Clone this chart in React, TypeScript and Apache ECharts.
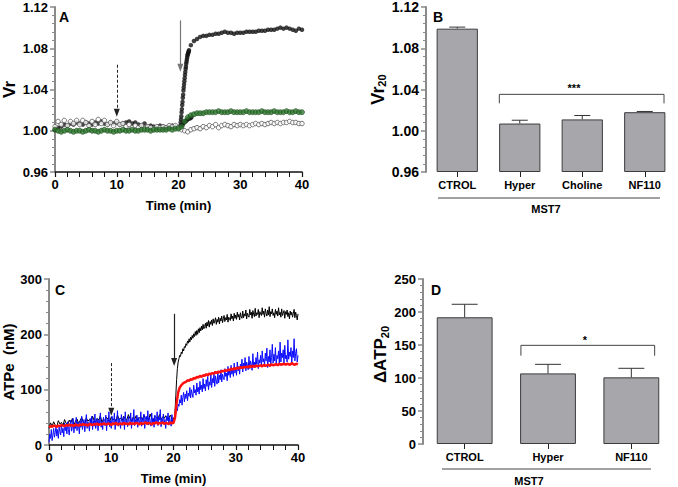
import React, { useEffect, useRef } from 'react';
import * as echarts from 'echarts';

const FONT = '"Liberation Sans", Arial, Helvetica, sans-serif';

// ---------- Panel A : Vr vs time ----------
const stepA = 0.5;
// CTROL (black filled) before stimulus, t = 0..20
const ctrolPreA = [
  1.001, 1.003, 1.004, 1.006, 1.005, 1.007, 1.006, 1.008, 1.007, 1.006,
  1.008, 1.007, 1.006, 1.008, 1.007, 1.009, 1.007, 1.006, 1.008, 1.007,
  1.008, 1.006, 1.007, 1.008, 1.009, 1.007, 1.008, 1.006, 1.005, 1.007,
  1.004, 1.005, 1.004, 1.003, 1.005, 1.004, 1.003, 1.004, 1.005, 1.004,
  1.003,
];
// CTROL rise after hypotonic shock
const ctrolRiseT = [20.3, 20.35, 20.4, 20.45, 20.5, 20.55, 20.6, 20.65, 20.7, 20.75, 20.8, 20.85, 20.9, 20.95, 21.0, 21.05, 21.1, 21.15, 21.2, 21.25, 21.3, 21.35, 21.4, 21.45, 21.5, 21.55, 21.6, 21.65, 21.7];
const ctrolRiseV = [1.005, 1.008, 1.011, 1.014, 1.018, 1.021, 1.025, 1.028, 1.032, 1.035, 1.039, 1.042, 1.045, 1.048, 1.051, 1.054, 1.057, 1.06, 1.062, 1.065, 1.067, 1.069, 1.071, 1.073, 1.074, 1.075, 1.076, 1.077, 1.078];
// CTROL plateau, t = 22..40
const ctrolPlatStart = 22;
const ctrolPlatA = [
  1.083, 1.087, 1.089, 1.091, 1.092, 1.092, 1.093, 1.093, 1.094, 1.094,
  1.095, 1.096, 1.095, 1.095, 1.094, 1.095, 1.095, 1.095, 1.096, 1.096,
  1.096, 1.096, 1.097, 1.097, 1.097, 1.098, 1.098, 1.098, 1.099, 1.1,
  1.099, 1.1, 1.099, 1.098, 1.097, 1.099, 1.098,
];
// dark branch near baseline just after stimulus
const branchT = [20.3, 20.5, 20.7, 20.9, 21.1, 21.3, 21.5, 21.7, 21.9, 22.1];
const branchV = [1.003, 1.005, 1.006, 1.008, 1.009, 1.01, 1.011, 1.012, 1.012, 1.013];
// Hyper (open circles), t = 0..40
const hyperA = [
  1.004, 1.009, 1.006, 1.01, 1.005, 1.009, 1.007, 1.01, 1.006, 1.01,
  1.008, 1.005, 1.009, 1.006, 1.011, 1.007, 1.01, 1.006, 1.008, 1.005,
  1.009, 1.006, 1.007, 1.004, 1.006, 1.003, 1.005, 1.003, 1.005, 1.002,
  1.004, 1.003, 1.002, 1.004, 1.003, 1.004, 1.003, 1.005, 1.004, 1.005,
  1.003, 1.001, 1.0, 0.999, 1.001, 1.002, 1.003, 1.002, 1.004, 1.003,
  1.005, 1.004, 1.006, 1.003, 1.005, 1.006, 1.005, 1.004, 1.006, 1.005,
  1.006, 1.005, 1.006, 1.005, 1.006, 1.007, 1.006, 1.007, 1.006, 1.007,
  1.008, 1.007, 1.008, 1.007, 1.008, 1.008, 1.009, 1.008, 1.008, 1.007,
  1.007,
];
// NF110 (green), t = 0..40
const nf110A = [
  1.001, 1.0, 0.999, 1.0, 1.001, 1.0, 0.999, 1.0, 1.0, 0.999,
  1.0, 1.001, 1.0, 1.0, 0.999, 1.0, 1.001, 1.0, 1.0, 0.999,
  1.0, 1.0, 1.001, 1.0, 1.0, 1.001, 1.0, 1.0, 1.001, 1.001,
  1.001, 1.0, 1.001, 1.001, 1.001, 1.001, 1.001, 1.002, 1.001, 1.002,
  1.002, 1.004, 1.009, 1.013, 1.015, 1.016, 1.017, 1.017, 1.017, 1.018,
  1.018, 1.018, 1.018, 1.019, 1.018, 1.018, 1.018, 1.019, 1.018, 1.018,
  1.018, 1.018, 1.019, 1.018, 1.018, 1.018, 1.018, 1.019, 1.018, 1.018,
  1.018, 1.019, 1.018, 1.018, 1.018, 1.019, 1.018, 1.018, 1.019, 1.018,
  1.018,
];
// stimulus arrows (time, start value, tip value)
const arrowsA = { dashed: [10, 1.064, 1.0175], solid: [20.3, 1.107, 1.061] };

// ---------- Panel B : Vr20 bars ----------
const catsB = ['CTROL', 'Hyper', 'Choline', 'NF110'];
const meanB = [1.099, 1.007, 1.011, 1.018];
const errTopB = [1.1005, 1.0102, 1.0148, 1.0187];
const bracketB = [[0.673, 1.0266], [0.673, 1.0353], [3.308, 1.0353], [3.308, 1.0266]];

// ---------- Panel C : ATPe vs time ----------
const stepC = 0.25;
const stepFineC = 0.125;
const postStartC = 20.25;
const postStartFineC = 20.125;
const ctrolPreC = [
  30, 40, 34, 42, 36, 33, 44, 38, 41, 35,
  46, 39, 37, 45, 40, 48, 36, 43, 47, 39,
  44, 50, 41, 38, 49, 43, 46, 40, 52, 44,
  42, 48, 45, 53, 41, 47, 44, 50, 46, 42,
  51, 45, 48, 43, 54, 46, 49, 44, 52, 47,
  45, 55, 48, 43, 50, 46, 53, 44, 49, 51,
  46, 54, 47, 50, 45, 56, 48, 44, 52, 49,
  47, 55, 46, 51, 48, 53, 45, 50, 54, 47,
  49,
];
const ctrolPostC = [
  45, 62, 90, 118, 138, 150, 156, 162,
  160, 168, 165, 174, 170, 178, 176, 183,
  180, 188, 184, 192, 186, 195, 190, 198,
  193, 201, 196, 205, 198, 207, 200, 210,
  203, 212, 206, 215, 208, 218, 210, 214,
  220, 211, 222, 215, 225, 213, 223, 218,
  226, 216, 228, 220, 224, 230, 218, 227,
  222, 231, 219, 229, 224, 233, 221, 228,
  234, 223, 230, 226, 236, 222, 231, 228,
  225, 237, 228, 233, 224, 238, 229, 235,
  227, 240, 231, 236, 226, 239, 232, 229,
  242, 230, 237, 233, 244, 228, 238, 234,
  231, 245, 235, 240, 229, 243, 236, 232,
  247, 233, 239, 236, 245, 230, 241, 237,
  234, 248, 236, 242, 231, 246, 238, 233,
  244, 235, 250, 232, 241, 237, 246, 234,
  239, 230, 245, 236, 242, 233, 248, 235,
  240, 231, 246, 234, 238, 243, 229, 241,
  236, 244, 232, 239, 228, 242, 235, 240,
  231, 238, 245, 230, 240, 234, 226, 237,
];
const hyperPreC = [
  5, 20, 12, 28, 8, 18, 30, 14,
  22, 35, 16, 28, 12, 33, 24, 18,
  38, 22, 30, 15, 40, 26, 34, 20,
  42, 28, 18, 36, 45, 25, 32, 48,
  22, 38, 30, 50, 26, 42, 35, 20,
  44, 32, 52, 28, 38, 46, 24, 40,
  55, 30, 42, 36, 25, 48, 38, 52,
  28, 44, 34, 56, 30, 40, 48, 26,
  45, 38, 58, 32, 42, 28, 50, 40,
  35, 54, 26, 46, 40, 60, 33, 44,
  30, 52, 42, 36, 58, 28, 46, 38,
  62, 34, 48, 40, 30, 55, 44, 36,
  50, 28, 60, 38, 45, 33, 52, 42,
  36, 58, 30, 48, 42, 64, 35, 46,
  40, 54, 32, 50, 44, 38, 60, 34,
  48, 42, 56, 30, 46, 52, 38, 62,
  36, 50, 44, 34, 58, 40, 48, 32,
  54, 42, 38, 60, 35, 50, 45, 64,
  33, 48, 40, 56, 38, 46, 30, 52,
  44, 58, 36, 50, 42, 34, 55, 40,
  46,
];
const hyperPostC = [
  44, 50, 58, 66, 62, 74, 70, 82,
  76, 90, 72, 86, 95, 78, 92, 84,
  98, 80, 94, 88, 104, 85, 100, 92,
  86, 108, 94, 100, 90, 112, 96, 104,
  92, 115, 100, 108, 96, 120, 102, 110,
  98, 118, 106, 124, 100, 114, 108, 128,
  104, 120, 112, 130, 106, 125, 116, 110,
  132, 112, 126, 118, 136, 114, 128, 122,
  118, 138, 124, 130, 116, 142, 126, 134,
  122, 144, 128, 136, 124, 148, 130, 140,
  126, 150, 134, 142, 128, 146, 138, 155,
  132, 148, 140, 158, 134, 150, 144, 136,
  160, 138, 152, 146, 135, 165, 142, 150,
  140, 158, 146, 168, 138, 154, 148, 162,
  142, 170, 150, 156, 144, 166, 152, 175,
  140, 160, 150, 172, 146, 158, 182, 148,
  164, 152, 176, 144, 162, 156, 170, 148,
  186, 150, 166, 158, 172, 146, 180, 156,
  162, 150, 190, 155, 168, 160, 176, 148,
  170, 158, 192, 152, 166, 174, 150, 162,
];
const nf110PreC = [
  32, 34, 33, 35, 34, 33, 35, 34, 36, 35,
  34, 36, 35, 37, 35, 36, 34, 37, 36, 35,
  37, 36, 38, 36, 37, 35, 38, 37, 36, 38,
  37, 39, 36, 38, 37, 39, 38, 37, 39, 38,
  36, 39, 38, 40, 37, 38, 39, 37, 40, 38,
  39, 37, 40, 38, 39, 38, 40, 39, 37, 40,
  38, 39, 41, 38, 40, 39, 37, 40, 39, 41,
  38, 40, 39, 41, 38, 40, 39, 38, 41, 39,
  40,
];
const nf110PostC = [
  50, 76, 95, 104, 108, 111, 113, 114, 117, 116,
  119, 118, 121, 120, 123, 122, 125, 123, 126, 125,
  128, 126, 129, 128, 130, 129, 132, 130, 133, 131,
  134, 133, 135, 134, 136, 135, 138, 136, 139, 137,
  140, 138, 141, 139, 141, 140, 142, 140, 143, 141,
  143, 141, 144, 142, 143, 144, 142, 145, 143, 144,
  145, 143, 146, 144, 145, 146, 144, 147, 145, 146,
  147, 145, 147, 146, 145, 148, 146, 145, 147, 146,
];
const arrowsC = { dashed: [10, 148, 60], solid: [20.1, 237, 150] };

// ---------- Panel D : ΔATP20 bars ----------
const catsD = ['CTROL', 'Hyper', 'NF110'];
const meanD = [192, 107, 101];
const errTopD = [211.7, 120.7, 114.7];
const bracketD = [[0.675, 133.8], [0.675, 149.5], [2.28, 149.5], [2.28, 133.8]];

const series = (start: number, step: number, vals: number[]) =>
  vals.map((v, i) => [+(start + i * step).toFixed(3), v]);
const pairs = (ts: number[], vs: number[]) => ts.map((t, i) => [t, vs[i]]);

const AX_GRAY = '#8a8a8a';

const yBase = (extra: any) => ({
  type: 'value',
  splitLine: { show: false },
  axisLine: { show: true, onZero: false, lineStyle: { color: AX_GRAY, width: 2 } },
  axisTick: { show: true, length: 5, lineStyle: { color: AX_GRAY, width: 1.5 } },
  minorTick: { show: true, splitNumber: 5, length: 3, lineStyle: { color: AX_GRAY, width: 1 } },
  axisLabel: { color: '#000', fontWeight: 'bold', fontSize: 13, fontFamily: FONT, margin: 7 },
  nameLocation: 'middle',
  nameRotate: 90,
  nameTextStyle: { color: '#000', fontWeight: 'bold', fontSize: 15, fontFamily: FONT },
  ...extra,
});

const xTime = (gridIndex: number) => ({
  type: 'value',
  gridIndex,
  min: 0,
  max: 40,
  interval: 10,
  splitLine: { show: false },
  axisLine: { show: true, onZero: false, lineStyle: { color: '#111', width: 1.5 } },
  axisTick: { show: true, length: 5, lineStyle: { color: '#111', width: 1.2 } },
  minorTick: { show: true, splitNumber: 5, length: 5, lineStyle: { color: '#111', width: 1 } },
  axisLabel: { color: '#000', fontWeight: 'bold', fontSize: 13, fontFamily: FONT, margin: 6 },
  name: 'Time (min)',
  nameLocation: 'middle',
  nameGap: 27,
  nameTextStyle: { color: '#000', fontWeight: 'bold', fontSize: 13, fontFamily: FONT },
});

const xCat = (gridIndex: number, data: string[]) => ({
  type: 'category',
  gridIndex,
  data,
  axisLine: { show: false, onZero: false },
  axisTick: { show: true, alignWithLabel: true, length: 5, lineStyle: { color: '#222', width: 1 } },
  axisLabel: { color: '#000', fontWeight: 'bold', fontSize: 11, fontFamily: FONT, margin: 7 },
  splitLine: { show: false },
});

const xOverlay = (gridIndex: number, n: number) => ({
  type: 'value',
  gridIndex,
  min: -0.5,
  max: n - 0.5,
  show: false,
  axisLine: { show: false, onZero: false },
  splitLine: { show: false },
});

const errRender = (means: number[], tops: number[], capW: number) => (params: any, api: any) => {
  const i = params.dataIndex;
  const base = api.coord([i, means[i]]);
  const top = api.coord([i, tops[i]]);
  const st = { stroke: '#333', lineWidth: 1 };
  return {
    type: 'group',
    children: [
      { type: 'line', shape: { x1: base[0], y1: base[1], x2: top[0], y2: top[1] }, style: st },
      { type: 'line', shape: { x1: top[0] - capW / 2, y1: top[1], x2: top[0] + capW / 2, y2: top[1] }, style: st },
    ],
  };
};

const arrowLine = (dashed: number[], solid: number[], solidColor: string) => ({
  silent: true,
  symbol: ['none', 'triangle'],
  symbolSize: [6, 8],
  label: { show: false },
  emphasis: { disabled: true },
  animation: false,
  data: [
    [{ coord: [dashed[0], dashed[1]], lineStyle: { type: [3, 2], color: '#222', width: 1 } }, { coord: [dashed[0], dashed[2]] }],
    [{ coord: [solid[0], solid[1]], lineStyle: { type: 'solid', color: solidColor, width: 1.2 } }, { coord: [solid[0], solid[2]] }],
  ],
});

const barStyle = { color: '#a6a6ab', borderColor: '#3c3c3c', borderWidth: 1 };

const txt = (text: string, x: number, y: number, size: number, align = 'left') => ({
  type: 'text', x, y,
  style: { text, align, verticalAlign: 'middle', fontSize: size, fontWeight: 'bold', fontFamily: FONT, fill: '#000' },
});

export default function App() {
  const ref = useRef<HTMLDivElement>(null);
  useEffect(() => {
    if (!ref.current) return;
    const chart = echarts.init(ref.current, undefined, { renderer: 'svg' });
    const option: any = {
      animation: false,
      backgroundColor: '#fff',
      grid: [
        { left: 53, top: 7, width: 249, height: 165 },
        { left: 426, top: 7, width: 250, height: 165 },
        { left: 49, top: 279, width: 249, height: 166 },
        { left: 423, top: 279, width: 250, height: 165 },
      ],
      xAxis: [
        xTime(0),
        xCat(1, catsB),
        xOverlay(1, catsB.length),
        xTime(2),
        xCat(3, catsD),
        xOverlay(3, catsD.length),
      ],
      yAxis: [
        yBase({ gridIndex: 0, min: 0.96, max: 1.12, interval: 0.04, name: 'Vr', nameGap: 37,
          nameTextStyle: { color: '#000', fontWeight: 'bold', fontSize: 17, fontFamily: FONT },
          axisLabel: { color: '#000', fontWeight: 'bold', fontSize: 13, fontFamily: FONT, margin: 7, formatter: (v: number) => v.toFixed(2) } }),
        yBase({ gridIndex: 1, min: 0.96, max: 1.12, interval: 0.04, startValue: 0.96,
          name: '{v|Vr}{s|20}', nameGap: 36,
          nameTextStyle: { color: '#000', fontFamily: FONT, rich: {
            v: { fontSize: 18, fontWeight: 'bold', fontFamily: FONT, color: '#000' },
            s: { fontSize: 11, fontWeight: 'bold', fontFamily: FONT, color: '#000', padding: [9, 0, 0, 0] },
          } },
          axisLabel: { color: '#000', fontWeight: 'bold', fontSize: 14, fontFamily: FONT, margin: 7, formatter: (v: number) => v.toFixed(2) } }),
        yBase({ gridIndex: 2, min: 0, max: 300, interval: 100, name: 'ATPe  (nM)', nameGap: 32 }),
        yBase({ gridIndex: 3, min: 0, max: 250, interval: 50,
          name: '{v|\u0394ATP}{s|20}', nameGap: 33,
          nameTextStyle: { color: '#000', fontFamily: FONT, padding: [0, 0, 0, 14], rich: {
            v: { fontSize: 17, fontWeight: 'bold', fontFamily: FONT, color: '#000' },
            s: { fontSize: 11, fontWeight: 'bold', fontFamily: FONT, color: '#000', padding: [9, 0, 0, 0] },
          } } }),
      ],
      series: [
        // ---- A ----
        {
          name: 'CTROL', type: 'scatter', xAxisIndex: 0, yAxisIndex: 0, symbolSize: 4.5,
          itemStyle: { color: '#111' },
          data: [
            ...series(0, stepA, ctrolPreA),
            ...pairs(ctrolRiseT, ctrolRiseV),
            ...series(ctrolPlatStart, stepA, ctrolPlatA),
            ...pairs(branchT, branchV),
          ],
          markLine: arrowLine(arrowsA.dashed, arrowsA.solid, '#777'),
        },
        {
          name: 'Hyper', type: 'scatter', xAxisIndex: 0, yAxisIndex: 0, symbolSize: 4.5,
          itemStyle: { color: '#fff', borderColor: '#555', borderWidth: 1 },
          data: series(0, stepA, hyperA),
        },
        {
          name: 'NF110', type: 'scatter', xAxisIndex: 0, yAxisIndex: 0, symbolSize: 5,
          itemStyle: { color: '#2f7a2f', borderColor: '#1c4a1c', borderWidth: 0.8 },
          data: series(0, stepA, nf110A),
        },
        // ---- B ----
        {
          type: 'bar', xAxisIndex: 1, yAxisIndex: 1, barWidth: '66%', itemStyle: barStyle,
          data: meanB,
        },
        {
          type: 'custom', xAxisIndex: 1, yAxisIndex: 1, renderItem: errRender(meanB, errTopB, 16),
          data: meanB.map((m, i) => [i, errTopB[i]]),
          z: 3,
        },
        {
          type: 'line', xAxisIndex: 2, yAxisIndex: 1, symbol: 'none',
          lineStyle: { color: '#444', width: 1 }, data: bracketB,
        },
        // ---- C ----
        {
          name: 'CTROL', type: 'line', xAxisIndex: 3, yAxisIndex: 2, showSymbol: false,
          lineStyle: { color: '#000', width: 1 },
          data: [...series(0, stepC, ctrolPreC), ...series(postStartFineC, stepFineC, ctrolPostC)],
          markLine: arrowLine(arrowsC.dashed, arrowsC.solid, '#222'),
        },
        {
          name: 'Hyper', type: 'line', xAxisIndex: 3, yAxisIndex: 2, showSymbol: false,
          lineStyle: { color: '#0a0aff', width: 1 },
          data: [...series(0, stepFineC, hyperPreC), ...series(postStartFineC, stepFineC, hyperPostC)],
        },
        {
          name: 'NF110', type: 'line', xAxisIndex: 3, yAxisIndex: 2, showSymbol: false,
          lineStyle: { color: '#ff1010', width: 2.5 },
          data: [...series(0, stepC, nf110PreC), ...series(postStartC, stepC, nf110PostC)],
        },
        // ---- D ----
        {
          type: 'bar', xAxisIndex: 4, yAxisIndex: 3, barWidth: '67%', itemStyle: barStyle,
          data: meanD,
        },
        {
          type: 'custom', xAxisIndex: 4, yAxisIndex: 3, renderItem: errRender(meanD, errTopD, 26),
          data: meanD.map((m, i) => [i, errTopD[i]]),
          z: 3,
        },
        {
          type: 'line', xAxisIndex: 5, yAxisIndex: 3, symbol: 'none',
          lineStyle: { color: '#444', width: 1 }, data: bracketD,
        },
      ],
      graphic: [
        txt('A', 59, 16.5, 14),
        txt('B', 433, 16.5, 14),
        txt('C', 55, 290, 14),
        txt('D', 431, 290, 14),
        txt('***', 574, 88, 11, 'center'),
        txt('*', 585, 340, 11, 'center'),
        { type: 'line', shape: { x1: 438, y1: 198, x2: 660, y2: 198 }, style: { stroke: '#444', lineWidth: 1 } },
        txt('MST7', 546, 209, 11, 'center'),
        { type: 'line', shape: { x1: 442, y1: 469, x2: 651, y2: 469 }, style: { stroke: '#444', lineWidth: 1 } },
        txt('MST7', 529, 481, 11, 'center'),
      ],
    };
    chart.setOption(option);
    return () => chart.dispose();
  }, []);
  return (
    <div
      ref={ref}
      style={{ position: 'fixed', left: 0, top: 0, width: 678, height: 487, background: '#fff' }}
    />
  );
}
